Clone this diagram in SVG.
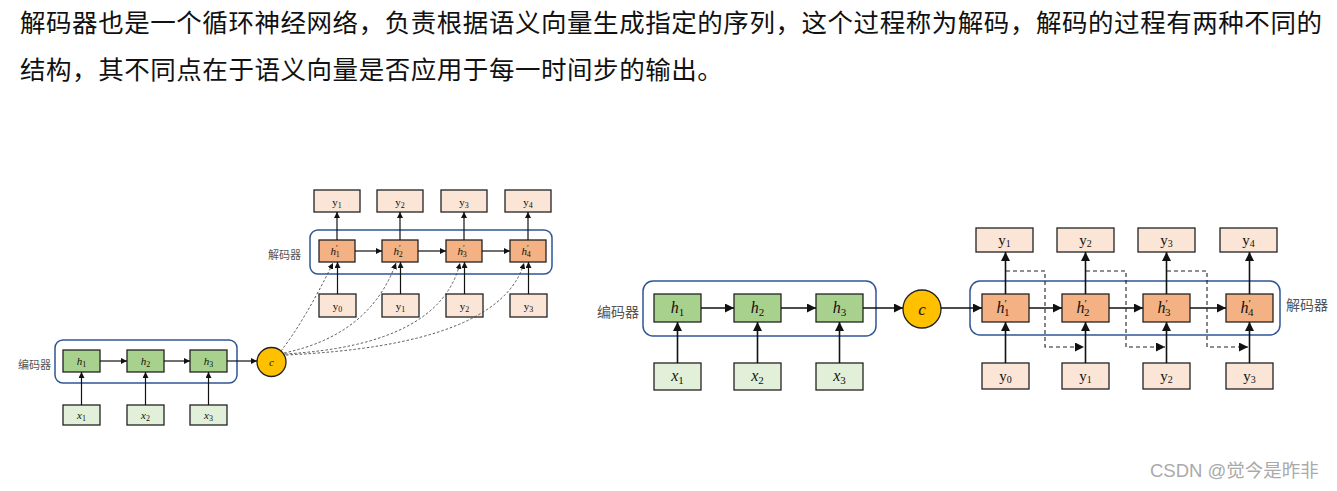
<svg xmlns="http://www.w3.org/2000/svg" width="1337" height="491" viewBox="0 0 1337 491">
<defs>
<marker id="aS" markerUnits="userSpaceOnUse" markerWidth="7" markerHeight="6" refX="6" refY="3" orient="auto"><path d="M0,0 L6,3 L0,6 z" fill="#111"/></marker>
<marker id="aL" markerUnits="userSpaceOnUse" markerWidth="10" markerHeight="9" refX="9" refY="4.5" orient="auto"><path d="M0,0 L9,4.5 L0,9 z" fill="#111"/></marker>
<style>
.para{font-family:"Noto Sans CJK SC","Noto Sans",sans-serif;font-size:25.5px;letter-spacing:0.55px;fill:#111;}
.cn{font-family:"Noto Sans CJK SC","Noto Sans",sans-serif;fill:#555;}
.cont{fill:none;stroke:#2f5597;stroke-width:1.5;}
.hg{fill:#a9d18e;stroke:#222;stroke-width:1.3;}
.xg{fill:#e2f0d9;stroke:#222;stroke-width:1.3;}
.ho{fill:#f4b183;stroke:#222;stroke-width:1.3;}
.yo{fill:#fbe5d6;stroke:#222;stroke-width:1.3;}
.cc{fill:#ffc000;stroke:#222;stroke-width:1.3;}
.m{font-family:"Liberation Serif","DejaVu Serif",serif;font-style:italic;fill:#111;text-anchor:middle;}
.m tspan{font-style:normal;}
.r{font-family:"Liberation Serif","DejaVu Serif",serif;fill:#111;text-anchor:middle;}
.s{stroke:#111;stroke-width:1.2;fill:none;marker-end:url(#aS);}
.l{stroke:#111;stroke-width:1.6;fill:none;marker-end:url(#aL);}
.ds{stroke:#444;stroke-width:0.9;stroke-dasharray:2.5,2;fill:none;marker-end:url(#aS);}
.dl{stroke:#222;stroke-width:1.1;stroke-dasharray:4,3;fill:none;marker-end:url(#aL);}
</style>
</defs>
<rect width="1337" height="491" fill="#fff"/>
<g id="paragraph">
<text class="para" x="20" y="32">解码器也是一个循环神经网络，负责根据语义向量生成指定的序列，这个过程称为解码，解码的过程有两种不同的</text>
<text class="para" x="20" y="79">结构，其不同点在于语义向量是否应用于每一时间步的输出。</text>
</g>

<!-- LEFT DIAGRAM -->
<g id="L-encoder">
<rect class="cont" x="55" y="340" width="182" height="43" rx="8"/>
<text class="cn" x="18" y="369" font-size="11">编码器</text>
</g>
<g id="L-h1"><rect class="hg" x="63" y="350" width="37" height="22"/><text class="m" x="81.5" y="365" font-size="11">h<tspan font-size="8" dy="2">1</tspan></text></g>
<g id="L-h2"><rect class="hg" x="127" y="350" width="37" height="22"/><text class="m" x="145.5" y="365" font-size="11">h<tspan font-size="8" dy="2">2</tspan></text></g>
<g id="L-h3"><rect class="hg" x="190" y="350" width="37" height="22"/><text class="m" x="208.5" y="365" font-size="11">h<tspan font-size="8" dy="2">3</tspan></text></g>
<g id="L-x1"><rect class="xg" x="63" y="405" width="37" height="20"/><text class="m" x="81.5" y="419" font-size="11">x<tspan font-size="8" dy="2">1</tspan></text></g>
<g id="L-x2"><rect class="xg" x="127" y="405" width="37" height="20"/><text class="m" x="145.5" y="419" font-size="11">x<tspan font-size="8" dy="2">2</tspan></text></g>
<g id="L-x3"><rect class="xg" x="190" y="405" width="37" height="20"/><text class="m" x="208.5" y="419" font-size="11">x<tspan font-size="8" dy="2">3</tspan></text></g>
<g id="L-c"><circle class="cc" cx="271.5" cy="362" r="14.5"/><text class="m" x="271.5" y="366" font-size="11">c</text></g>

<g id="L-decoder">
<rect class="cont" x="310" y="230" width="242" height="44" rx="8"/>
<text class="cn" x="268" y="259" font-size="11">解码器</text>
</g>
<g id="L-hp1"><rect class="ho" x="319" y="240" width="36" height="22"/><text class="m" x="335" y="255" font-size="11">h<tspan font-size="8" dy="-4">′</tspan><tspan font-size="8" dx="-2" dy="6">1</tspan></text></g>
<g id="L-hp2"><rect class="ho" x="382" y="240" width="36" height="22"/><text class="m" x="398" y="255" font-size="11">h<tspan font-size="8" dy="-4">′</tspan><tspan font-size="8" dx="-2" dy="6">2</tspan></text></g>
<g id="L-hp3"><rect class="ho" x="446" y="240" width="36" height="22"/><text class="m" x="462" y="255" font-size="11">h<tspan font-size="8" dy="-4">′</tspan><tspan font-size="8" dx="-2" dy="6">3</tspan></text></g>
<g id="L-hp4"><rect class="ho" x="510" y="240" width="36" height="22"/><text class="m" x="526" y="255" font-size="11">h<tspan font-size="8" dy="-4">′</tspan><tspan font-size="8" dx="-2" dy="6">4</tspan></text></g>
<g id="L-yo1"><rect class="yo" x="314" y="190" width="46" height="22"/><text class="r" x="337" y="206" font-size="11">y<tspan font-size="8" dy="2">1</tspan></text></g>
<g id="L-yo2"><rect class="yo" x="377" y="190" width="46" height="22"/><text class="r" x="400" y="206" font-size="11">y<tspan font-size="8" dy="2">2</tspan></text></g>
<g id="L-yo3"><rect class="yo" x="441" y="190" width="46" height="22"/><text class="r" x="464" y="206" font-size="11">y<tspan font-size="8" dy="2">3</tspan></text></g>
<g id="L-yo4"><rect class="yo" x="505" y="190" width="46" height="22"/><text class="r" x="528" y="206" font-size="11">y<tspan font-size="8" dy="2">4</tspan></text></g>
<g id="L-yi0"><rect class="yo" x="319" y="294" width="37" height="23"/><text class="r" x="337.5" y="310" font-size="11">y<tspan font-size="8" dy="2">0</tspan></text></g>
<g id="L-yi1"><rect class="yo" x="382" y="294" width="37" height="23"/><text class="r" x="400.5" y="310" font-size="11">y<tspan font-size="8" dy="2">1</tspan></text></g>
<g id="L-yi2"><rect class="yo" x="446" y="294" width="37" height="23"/><text class="r" x="464.5" y="310" font-size="11">y<tspan font-size="8" dy="2">2</tspan></text></g>
<g id="L-yi3"><rect class="yo" x="510" y="294" width="37" height="23"/><text class="r" x="528.5" y="310" font-size="11">y<tspan font-size="8" dy="2">3</tspan></text></g>

<!-- RIGHT DIAGRAM -->
<g id="R-encoder">
<rect class="cont" x="643" y="281" width="233" height="55" rx="10"/>
<text class="cn" x="597" y="317" font-size="14">编码器</text>
</g>
<g id="R-h1"><rect class="hg" x="654" y="294" width="47" height="28"/><text class="m" x="677.5" y="313" font-size="16">h<tspan font-size="11" dy="3">1</tspan></text></g>
<g id="R-h2"><rect class="hg" x="734" y="294" width="47" height="28"/><text class="m" x="757.5" y="313" font-size="16">h<tspan font-size="11" dy="3">2</tspan></text></g>
<g id="R-h3"><rect class="hg" x="816" y="294" width="47" height="28"/><text class="m" x="839.5" y="313" font-size="16">h<tspan font-size="11" dy="3">3</tspan></text></g>
<g id="R-x1"><rect class="xg" x="654" y="363" width="47" height="27"/><text class="m" x="677.5" y="381" font-size="16">x<tspan font-size="11" dy="3">1</tspan></text></g>
<g id="R-x2"><rect class="xg" x="734" y="363" width="47" height="27"/><text class="m" x="757.5" y="381" font-size="16">x<tspan font-size="11" dy="3">2</tspan></text></g>
<g id="R-x3"><rect class="xg" x="816" y="363" width="47" height="27"/><text class="m" x="839.5" y="381" font-size="16">x<tspan font-size="11" dy="3">3</tspan></text></g>
<g id="R-c"><circle class="cc" cx="922" cy="309" r="19"/><text class="m" x="922" y="315" font-size="17">c</text></g>

<g id="R-decoder">
<rect class="cont" x="970" y="281" width="310" height="54" rx="10"/>
<text class="cn" x="1286" y="310" font-size="14">解码器</text>
</g>
<g id="R-hp1"><rect class="ho" x="982" y="294" width="47" height="28"/><text class="m" x="1003" y="313" font-size="16">h<tspan font-size="11" dy="-6">′</tspan><tspan font-size="11" dx="-3" dy="9">1</tspan></text></g>
<g id="R-hp2"><rect class="ho" x="1062" y="294" width="47" height="28"/><text class="m" x="1083" y="313" font-size="16">h<tspan font-size="11" dy="-6">′</tspan><tspan font-size="11" dx="-3" dy="9">2</tspan></text></g>
<g id="R-hp3"><rect class="ho" x="1143" y="294" width="47" height="28"/><text class="m" x="1164" y="313" font-size="16">h<tspan font-size="11" dy="-6">′</tspan><tspan font-size="11" dx="-3" dy="9">3</tspan></text></g>
<g id="R-hp4"><rect class="ho" x="1226" y="294" width="47" height="28"/><text class="m" x="1247" y="313" font-size="16">h<tspan font-size="11" dy="-6">′</tspan><tspan font-size="11" dx="-3" dy="9">4</tspan></text></g>
<g id="R-yo1"><rect class="yo" x="976" y="228" width="57" height="24"/><text class="r" x="1004.5" y="245" font-size="15">y<tspan font-size="10" dy="2">1</tspan></text></g>
<g id="R-yo2"><rect class="yo" x="1057" y="228" width="57" height="24"/><text class="r" x="1085.5" y="245" font-size="15">y<tspan font-size="10" dy="2">2</tspan></text></g>
<g id="R-yo3"><rect class="yo" x="1138" y="228" width="57" height="24"/><text class="r" x="1166.5" y="245" font-size="15">y<tspan font-size="10" dy="2">3</tspan></text></g>
<g id="R-yo4"><rect class="yo" x="1220" y="228" width="57" height="24"/><text class="r" x="1248.5" y="245" font-size="15">y<tspan font-size="10" dy="2">4</tspan></text></g>
<g id="R-yi0"><rect class="yo" x="982" y="363" width="47" height="26"/><text class="r" x="1005.5" y="381" font-size="15">y<tspan font-size="10" dy="2">0</tspan></text></g>
<g id="R-yi1"><rect class="yo" x="1062" y="363" width="47" height="26"/><text class="r" x="1085.5" y="381" font-size="15">y<tspan font-size="10" dy="2">1</tspan></text></g>
<g id="R-yi2"><rect class="yo" x="1143" y="363" width="47" height="26"/><text class="r" x="1166.5" y="381" font-size="15">y<tspan font-size="10" dy="2">2</tspan></text></g>
<g id="R-yi3"><rect class="yo" x="1226" y="363" width="47" height="26"/><text class="r" x="1249.5" y="381" font-size="15">y<tspan font-size="10" dy="2">3</tspan></text></g>

<g id="connectors">
<!-- left encoder -->
<path class="s" d="M81.5,405 V372"/>
<path class="s" d="M145.5,405 V372"/>
<path class="s" d="M208.5,405 V372"/>
<path class="s" d="M100,361 H127"/>
<path class="s" d="M164,361 H190"/>
<path class="s" d="M227,361 H257"/>
<!-- left decoder -->
<path class="s" d="M355,251 H382"/>
<path class="s" d="M418,251 H446"/>
<path class="s" d="M482,251 H510"/>
<path class="s" d="M337,240 V212"/>
<path class="s" d="M400,240 V212"/>
<path class="s" d="M464,240 V212"/>
<path class="s" d="M528,240 V212"/>
<path class="s" d="M337.5,294 V262"/>
<path class="s" d="M400.5,294 V262"/>
<path class="s" d="M464.5,294 V262"/>
<path class="s" d="M528.5,294 V262"/>
<path class="ds" d="M281,351 Q305,320 333,263"/>
<path class="ds" d="M284,353 Q370,335 396,263"/>
<path class="ds" d="M285,354 Q440,345 460,263"/>
<path class="ds" d="M286,355 Q500,345 524,263"/>
<!-- right encoder -->
<path class="l" d="M677.5,363 V322"/>
<path class="l" d="M757.5,363 V322"/>
<path class="l" d="M839.5,363 V322"/>
<path class="l" d="M701,308 H734"/>
<path class="l" d="M781,308 H816"/>
<path class="l" d="M863,308 H903"/>
<!-- right decoder -->
<path class="l" d="M941,308 H982"/>
<path class="l" d="M1029,308 H1062"/>
<path class="l" d="M1109,308 H1143"/>
<path class="l" d="M1190,308 H1226"/>
<path class="l" d="M1005.5,294 V252"/>
<path class="l" d="M1085.5,294 V252"/>
<path class="l" d="M1166.5,294 V252"/>
<path class="l" d="M1249.5,294 V252"/>
<path class="l" d="M1005.5,363 V322"/>
<path class="l" d="M1085.5,363 V322"/>
<path class="l" d="M1166.5,363 V322"/>
<path class="l" d="M1249.5,363 V322"/>
<path class="dl" d="M1006,271 H1045 V347 H1084"/>
<path class="dl" d="M1086,271 H1126 V347 H1165"/>
<path class="dl" d="M1167,271 H1207 V347 H1248"/>
</g>

<text id="watermark" x="1150" y="477" font-family="Liberation Sans,Noto Sans CJK SC,sans-serif" font-size="18.5" fill="#aaa">CSDN @觉今是昨非</text>
</svg>
